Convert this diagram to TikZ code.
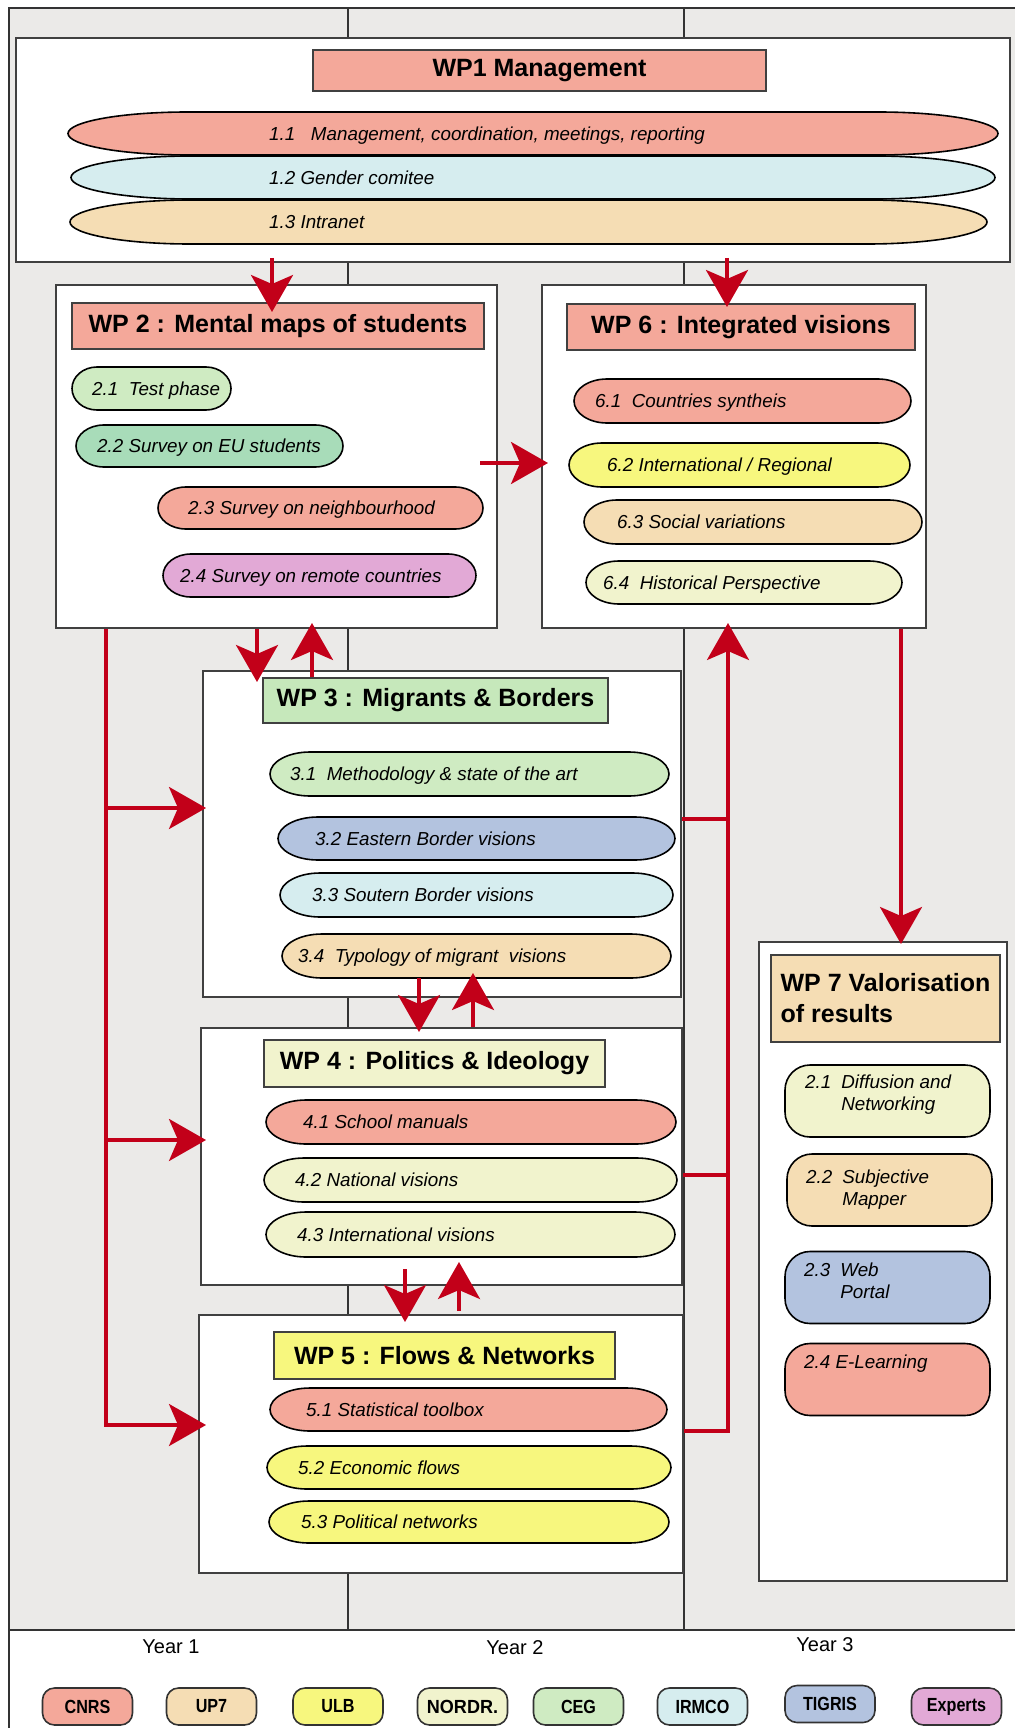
\documentclass[tikz,border=0pt]{standalone}
\usepackage{fontspec}
\setmainfont{Liberation Sans}
\usepackage{graphicx}
\usetikzlibrary{arrows.meta,positioning}

\definecolor{wpred}{HTML}{C20019}
\definecolor{bggrey}{HTML}{EBEAE8}
\definecolor{cnrs}{HTML}{F4A89A}
\definecolor{upseven}{HTML}{F5DDB4}
\definecolor{ulb}{HTML}{F7F77E}
\definecolor{nordr}{HTML}{F1F3CD}
\definecolor{ceg}{HTML}{CFEBC2}
\definecolor{cegdark}{HTML}{C6E8BB}
\definecolor{irmco}{HTML}{D6EDEF}
\definecolor{tigris}{HTML}{B3C3DF}
\definecolor{experts}{HTML}{E2A9D6}
\definecolor{mint}{HTML}{A8DCB9}

\newcommand{\wpTitleFont}{\fontsize{25}{31}\selectfont\bfseries}
\newcommand{\wpItemFont}{\fontsize{18.8}{22}\selectfont\itshape}
\newcommand{\wpYearFont}{\fontsize{20}{24}\selectfont}
\newcommand{\wpPartnerFont}{\fontsize{19}{22}\selectfont\bfseries}
\newcommand{\wpNarrow}[2][0.85]{\scalebox{#1}[1]{#2}}

% pill: a box whose two ends are half ellipses
\makeatletter
\pgfkeys{/tikz/pill end/.initial=20pt}
\pgfdeclareshape{pill}{%
  \inheritsavedanchors[from=rectangle]%
  \inheritanchorborder[from=rectangle]%
  \inheritanchor[from=rectangle]{center}%
  \inheritanchor[from=rectangle]{north}%
  \inheritanchor[from=rectangle]{south}%
  \inheritanchor[from=rectangle]{east}%
  \inheritanchor[from=rectangle]{west}%
  \inheritanchor[from=rectangle]{north east}%
  \inheritanchor[from=rectangle]{north west}%
  \inheritanchor[from=rectangle]{south east}%
  \inheritanchor[from=rectangle]{south west}%
  \backgroundpath{%
    \southwest \edef\pill@l{\the\pgf@x}\edef\pill@b{\the\pgf@y}%
    \northeast \edef\pill@r{\the\pgf@x}\edef\pill@t{\the\pgf@y}%
    \pgfmathsetlengthmacro\pill@h{(\pill@t-\pill@b)/2}%
    \pgfmathsetlengthmacro\pill@a{min(\pgfkeysvalueof{/tikz/pill end},(\pill@r-\pill@l)/2)}%
    \pgfmathsetlengthmacro\pill@xl{\pill@l+\pill@a}%
    \pgfmathsetlengthmacro\pill@xr{\pill@r-\pill@a}%
    \pgfpathmoveto{\pgfqpoint{\pill@xl}{\pill@t}}%
    \pgfpathlineto{\pgfqpoint{\pill@xr}{\pill@t}}%
    \pgfpatharc{90}{-90}{\pill@a and \pill@h}%
    \pgfpathlineto{\pgfqpoint{\pill@xl}{\pill@b}}%
    \pgfpatharc{270}{90}{\pill@a and \pill@h}%
    \pgfpathclose
  }%
}
\makeatother

\tikzset{
  colline/.style={draw=black!80, line width=2pt},
  wpbox/.style={draw=black!75, line width=2pt, fill=white, inner sep=0pt},
  wptitle/.style={draw=black!75, line width=2pt, inner sep=0pt, font=\wpTitleFont},
  wpitem/.style={pill, draw=black, line width=1.6pt, inner sep=0pt, outer sep=0pt, pill end=40pt},
  wpvalo/.style={draw=black, line width=1.6pt, rounded corners=25pt, inner sep=0pt,
    fill=#1, minimum width=205pt, minimum height=72pt},
  itemtxt/.style={anchor=west, inner sep=0pt, text height=13.5pt, text depth=0pt, font=\wpItemFont},
  valotxt/.style={anchor=north west, inner sep=0pt, font=\wpItemFont},
  wpline/.style={draw=wpred, line width=3.5pt},
  wparrow/.style={wpline, -{Stealth[length=37pt, width=42pt, inset=9pt]}},
  partner/.style={draw=black!80, line width=1.6pt, rounded corners=12pt, fill=#1,
    minimum width=90pt, minimum height=37pt, inner sep=0pt, font=\wpPartnerFont},
  yearlbl/.style={font=\wpYearFont, inner sep=0pt},
}

\begin{document}
\begin{tikzpicture}[x=1pt, y=-1pt]
  \useasboundingbox (0,0) rectangle (1015,1728);

  % Year columns
  \fill[bggrey] (9,8) rectangle (1015,1630);
  \draw[colline] (9,1728) -- (9,8) -- (1015,8);
  \draw[colline] (9,1630) -- (1015,1630);
  \draw[colline] (348,8) -- (348,1630);
  \draw[colline] (684,8) -- (684,1630);

  % WP1 Management
  \node[wpbox, minimum width=994pt, minimum height=224pt] (wp1) at (513,150) {};
  \node[wptitle, fill=cnrs, minimum width=453pt, minimum height=41pt] (wp1t) at (539.5,70.5) {WP1 Management};
  \node[wpitem, pill end=120pt, fill=cnrs, minimum width=930pt, minimum height=43pt] (i11) at (533,133.5) {};
  \node[wpitem, pill end=120pt, fill=irmco, minimum width=924pt, minimum height=43pt] (i12) at (533,177.5) {};
  \node[wpitem, pill end=120pt, fill=upseven, minimum width=917pt, minimum height=44pt] (i13) at (528.5,222) {};
  \node[itemtxt] (t11) at (269,133.5) {1.1\ \ \ Management, coordination, meetings, reporting};
  \node[itemtxt] (t12) at (269,177.5) {1.2 Gender comitee};
  \node[itemtxt] (t13) at (269,222) {1.3 Intranet};

  % WP2 Mental maps
  \node[wpbox, minimum width=441pt, minimum height=343pt] (wp2) at (276.5,456.5) {};
  \node[wptitle, fill=cnrs, minimum width=412pt, minimum height=46pt] (wp2t) at (278,326) {WP 2 : Mental maps of students};
  \node[wpitem, pill end=25pt, fill=ceg, minimum width=159pt, minimum height=43pt] (i21) at (151.5,388.5) {};
  \node[wpitem, pill end=28pt, fill=mint, minimum width=267pt, minimum height=42pt] (i22) at (209.5,446) {};
  \node[wpitem, pill end=28pt, fill=cnrs, minimum width=325pt, minimum height=42pt] (i23) at (320.5,508) {};
  \node[wpitem, pill end=28pt, fill=experts, minimum width=313pt, minimum height=43pt] (i24) at (319.5,575.5) {};
  \node[itemtxt] (t21) at (92,388.5) {2.1\ \ Test phase};
  \node[itemtxt] (t22) at (97,446) {2.2 Survey on EU students};
  \node[itemtxt] (t23) at (188,508) {2.3 Survey on neighbourhood};
  \node[itemtxt] (t24) at (180,575.5) {2.4 Survey on remote countries};

  % WP6 Integrated visions
  \node[wpbox, minimum width=384pt, minimum height=343pt] (wp6) at (734,456.5) {};
  \node[wptitle, fill=cnrs, minimum width=348pt, minimum height=46pt] (wp6t) at (741,327) {WP 6 : Integrated visions};
  \node[wpitem, pill end=33pt, fill=cnrs, minimum width=337pt, minimum height=44pt] (i61) at (742.5,401) {};
  \node[wpitem, pill end=33pt, fill=ulb, minimum width=341pt, minimum height=44pt] (i62) at (739.5,465) {};
  \node[wpitem, pill end=33pt, fill=upseven, minimum width=338pt, minimum height=44pt] (i63) at (753,522) {};
  \node[wpitem, pill end=33pt, fill=nordr, minimum width=316pt, minimum height=43pt] (i64) at (744,582.5) {};
  \node[itemtxt] (t61) at (595,401) {6.1\ \ Countries syntheis};
  \node[itemtxt] (t62) at (607,465) {6.2 International / Regional};
  \node[itemtxt] (t63) at (617,522) {6.3 Social variations};
  \node[itemtxt] (t64) at (603,582.5) {6.4\ \ Historical Perspective};

  % WP3 Migrants and borders
  \node[wpbox, minimum width=478pt, minimum height=326pt] (wp3) at (442,834) {};
  \node[wptitle, fill=cegdark, minimum width=345pt, minimum height=45pt] (wp3t) at (435.5,700.5) {WP 3 : Migrants \& Borders};
  \node[wpitem, fill=ceg, minimum width=399pt, minimum height=44pt] (i31) at (469.5,774) {};
  \node[wpitem, fill=tigris, minimum width=397pt, minimum height=43pt] (i32) at (476.5,838.5) {};
  \node[wpitem, fill=irmco, minimum width=393pt, minimum height=44pt] (i33) at (476.5,895) {};
  \node[wpitem, fill=upseven, minimum width=389pt, minimum height=44pt] (i34) at (476.5,956) {};
  \node[itemtxt] (t31) at (290,774) {3.1\ \ Methodology \& state of the art};
  \node[itemtxt] (t32) at (315,838.5) {3.2 Eastern Border visions};
  \node[itemtxt] (t33) at (312,895) {3.3 Soutern Border visions};
  \node[itemtxt] (t34) at (298,956) {3.4\ \ Typology of migrant\ \ visions};

  % WP4 Politics and ideology
  \node[wpbox, minimum width=481pt, minimum height=257pt] (wp4) at (441.5,1156.5) {};
  \node[wptitle, fill=nordr, minimum width=341pt, minimum height=47pt] (wp4t) at (434.5,1063.5) {WP 4 : Politics \& Ideology};
  \node[wpitem, fill=cnrs, minimum width=410pt, minimum height=44pt] (i41) at (471,1122) {};
  \node[wpitem, fill=nordr, minimum width=413pt, minimum height=44pt] (i42) at (470.5,1180) {};
  \node[wpitem, fill=nordr, minimum width=409pt, minimum height=45pt] (i43) at (470.5,1234.5) {};
  \node[itemtxt] (t41) at (303,1122) {4.1 School manuals};
  \node[itemtxt] (t42) at (295,1180) {4.2 National visions};
  \node[itemtxt] (t43) at (297,1234.5) {4.3 International visions};

  % WP5 Flows and networks
  \node[wpbox, minimum width=484pt, minimum height=258pt] (wp5) at (441,1444) {};
  \node[wptitle, fill=ulb, minimum width=341pt, minimum height=47pt] (wp5t) at (444.5,1355.5) {WP 5 : Flows \& Networks};
  \node[wpitem, fill=cnrs, minimum width=397pt, minimum height=43pt] (i51) at (468.5,1409.5) {};
  \node[wpitem, fill=ulb, minimum width=404pt, minimum height=43pt] (i52) at (469,1467.5) {};
  \node[wpitem, fill=ulb, minimum width=400pt, minimum height=42pt] (i53) at (469,1522) {};
  \node[itemtxt] (t51) at (306,1409.5) {5.1 Statistical toolbox};
  \node[itemtxt] (t52) at (298,1467.5) {5.2 Economic flows};
  \node[itemtxt] (t53) at (301,1522) {5.3 Political networks};

  % WP7 Valorisation
  \node[wpbox, minimum width=248pt, minimum height=639pt] (wp7) at (883,1261.5) {};
  \node[wptitle, fill=upseven, align=left, minimum width=229pt,
    minimum height=87pt] (wp7t) at (885.5,998.5) {WP 7 Valorisation\\of results};
  \node[wpvalo=nordr] (i71) at (887.5,1101) {};
  \node[wpvalo=upseven] (i72) at (889.5,1190) {};
  \node[wpvalo=tigris] (i73) at (887.5,1287.5) {};
  \node[wpvalo=cnrs] (i74) at (887.5,1379.5) {};
  \node[valotxt] (t71) at (805,1073) {\begin{tabular}{@{}l@{\hspace{10pt}}l@{}}2.1 & Diffusion and\\ & Networking\end{tabular}};
  \node[valotxt] (t72) at (806,1168) {\begin{tabular}{@{}l@{\hspace{10pt}}l@{}}2.2 & Subjective\\ & Mapper\end{tabular}};
  \node[valotxt] (t73) at (804,1261) {\begin{tabular}{@{}l@{\hspace{10pt}}l@{}}2.3 & Web\\ & Portal\end{tabular}};
  \node[itemtxt] (t74) at (804,1362) {2.4 E-Learning};

  % Links between work packages
  \coordinate (x1) at (272,0);
  \coordinate (x2) at (727,0);
  \coordinate (x4) at (257,0);
  \coordinate (x5) at (312,0);
  \coordinate (x6) at (419,0);
  \coordinate (x7) at (473,0);
  \coordinate (x8) at (405,0);
  \coordinate (x9) at (459,0);
  \coordinate (x12) at (901,0);
  \coordinate (y3) at (0,463);
  \draw[wparrow, shorten <=-5pt, shorten >=-10pt] (x1 |- wp1.south) -- (x1 |- wp2t.north);
  \draw[wparrow, shorten <=-5pt, shorten >=-4pt] (x2 |- wp1.south) -- (x2 |- wp6t.north);
  \draw[wparrow, shorten <=-18pt, shorten >=-7pt] (wp2.east |- y3) -- (wp6.west |- y3);
  \draw[wparrow, shorten >=-5pt] (x4 |- wp2.south) -- (x4 |- wp3t.north);
  \draw[wparrow, shorten >=-6pt] (x5 |- wp3t.north) -- (x5 |- wp2.south);
  \draw[wparrow, shorten >=-5pt] (x6 |- i34.south) -- (x6 |- wp4.north);
  \draw[wparrow, shorten >=-5pt] (x7 |- wp4.north) -- (x7 |- i34.south);
  \draw[wparrow, shorten <=-17pt, shorten >=-8pt] (x8 |- wp4.south) -- (x8 |- wp5.north);
  \draw[wparrow, shorten <=3pt, shorten >=5pt] (x9 |- wp5.north) -- (x9 |- i43.south);
  \draw[wparrow, shorten >=-3pt] (x12 |- wp6.south) -- (x12 |- wp7.north);

  % Left bus into WP3, WP4, WP5
  \coordinate (l3) at (106,808);
  \coordinate (l4) at (106,1140);
  \coordinate (l5) at (106,1425);
  \draw[wparrow, shorten >=-8pt] (l5 |- wp2.south) -- (l5) -- (l5 -| wp5.west);
  \draw[wparrow, shorten >=-4pt] (l3) -- (l3 -| wp3.west);
  \draw[wparrow, shorten >=-6pt] (l4) -- (l4 -| wp4.west);

  % Right bus up to WP6
  \coordinate (r3) at (728,819);
  \coordinate (r4) at (728,1175);
  \coordinate (r5) at (728,1431);
  \draw[wpline] (r3 -| wp3.east) -- (r3);
  \draw[wpline] (r4 -| wp4.east) -- (r4);
  \draw[wparrow, shorten >=-6pt] (r5 -| wp5.east) -- (r5) -- (r5 |- wp6.south);

  % Years
  \node[yearlbl] (year1) at (171,1647) {Year 1};
  \node[yearlbl] (year2) at (515,1648) {Year 2};
  \node[yearlbl] (year3) at (825,1645) {Year 3};

  % Partners
  \node[partner=cnrs] (pcnrs) at (87.5,1706.5) {\wpNarrow{CNRS}};
  \node[partner=upseven] (pup7) at (211.5,1706.5) {\wpNarrow{UP7}};
  \node[partner=ulb] (pulb) at (338,1706.5) {\wpNarrow{ULB}};
  \node[partner=nordr] (pnordr) at (462.5,1706.5) {\wpNarrow[0.95]{NORDR.}};
  \node[partner=ceg] (pceg) at (578.5,1706.5) {\wpNarrow{CEG}};
  \node[partner=irmco] (pirmco) at (702.5,1706.5) {\wpNarrow{IRMCO}};
  \node[partner=tigris] (ptigris) at (830,1704) {\wpNarrow{TIGRIS}};
  \node[partner=experts] (pexperts) at (956.5,1706.5) {\wpNarrow{Experts}};
\end{tikzpicture}
\end{document}
